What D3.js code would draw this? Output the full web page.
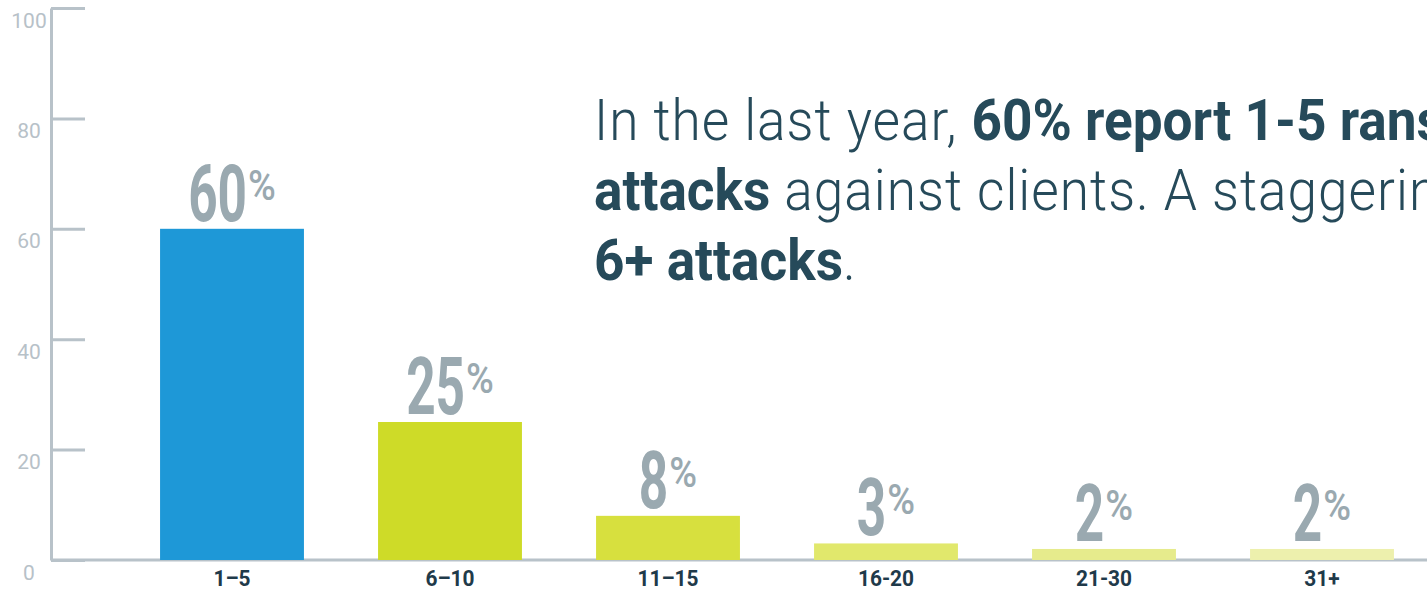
<!DOCTYPE html>
<html>
<head>
<title>attacks</title>
<script type="text/javascript" src="https://cdn.jsdelivr.net/npm/d3@7"></script>
<style>
body { margin: 0; background: #fff; }
svg { display: block; }
</style>
</head>
<body>
<svg width="1427" height="591"></svg>
<script type="text/javascript">

// data
var categories = ["1\u20135", "6\u201310", "11\u201315", "16-20", "21-30", "31+"];
var values = [60, 25, 8, 3, 2, 2];
var barColors = ["#1e98d7", "#cedb28", "#d7e03e", "#e1e86c", "#e6eb8c", "#edf0ad"];
var yTicks = [0, 20, 40, 60, 80, 100];

var svg = d3.select("svg");

var y = d3.scaleLinear().domain([0, 100]).range([560, 8]);
var x = d3.scaleBand().domain(categories).range([123, 1431])
  .paddingInner(0.34).paddingOuter(0.17);

var axisColor = "#b8c2c9";

// y axis
var yAxis = svg.append("g")
  .attr("transform", "translate(51,0)")
  .call(d3.axisLeft(y).tickValues(yTicks).tickSize(-34).tickSizeOuter(0));
yAxis.select(".domain").attr("stroke", axisColor).attr("stroke-width", 3);
yAxis.selectAll(".tick line").attr("stroke", axisColor).attr("stroke-width", 3);
yAxis.selectAll(".tick text")
  .attr("fill", "#b7c1c8")
  .attr("font-family", "Roboto")
  .attr("font-weight", 400)
  .attr("font-size", 21)
  .attr("text-anchor", "middle")
  .attr("x", -22)
  .attr("dy", 0)
  .attr("y", 19);

// baseline
svg.append("line")
  .attr("x1", 51).attr("x2", 1427)
  .attr("y1", y(0)).attr("y2", y(0))
  .attr("stroke", axisColor).attr("stroke-width", 3);

// bars
svg.selectAll("rect.bar")
  .data(values)
  .enter()
  .append("rect")
  .attr("class", "bar")
  .attr("x", function(d, i) { return x(categories[i]); })
  .attr("y", function(d) { return y(d); })
  .attr("width", x.bandwidth())
  .attr("height", function(d) { return y(0) - y(d); })
  .attr("fill", function(d, i) { return barColors[i]; });

// value labels: big condensed number + raised percent sign
var digScale = 0.65, pctScale = 0.9, gap = 1;
var lab = svg.selectAll("g.val")
  .data(values)
  .enter()
  .append("g")
  .attr("class", "val");

lab.append("text")
  .attr("class", "num")
  .attr("transform", "scale(" + digScale + ",1)")
  .attr("text-anchor", "end")
  .attr("fill", "#9aa9b0")
  .attr("font-family", "Roboto")
  .attr("font-weight", 700)
  .attr("font-size", 79)
  .text(function(d) { return d; });

lab.append("text")
  .attr("class", "pct")
  .attr("transform", "translate(" + gap + ",-21) scale(" + pctScale + ",1)")
  .attr("fill", "#9aa9b0")
  .attr("font-family", "Roboto")
  .attr("font-weight", 500)
  .attr("font-size", 42)
  .text("%");

lab.attr("transform", function(d, i) {
  var g = d3.select(this);
  var wn = g.select(".num").node().getComputedTextLength() * digScale;
  var wp = g.select(".pct").node().getComputedTextLength() * pctScale + gap;
  var cx = x(categories[i]) + x.bandwidth() / 2 - (wp - wn) / 2;
  return "translate(" + cx + "," + (y(d) - 8) + ")";
});

// category labels
var xAxis = svg.append("g")
  .attr("transform", "translate(0," + y(0) + ")")
  .call(d3.axisBottom(x).tickSize(0).tickPadding(0));
xAxis.select(".domain").remove();
xAxis.selectAll(".tick text")
  .attr("fill", "#1f3a4a")
  .attr("font-family", "Roboto")
  .attr("font-weight", 700)
  .attr("font-size", 22)
  .attr("dy", 0)
  .attr("y", 26)
  .attr("transform", "scale(0.95,1)");

// headline (runs off the right edge as in the original)
var lines = [
  [["In the last year, ", 300], ["60% report 1-5 ransomware", 700]],
  [["attacks", 700], [" against clients. A staggering ", 300], ["40% report", 700]],
  [["6+ attacks", 700], [".", 300]]
];
var head = svg.append("g").attr("transform", "translate(594,0)");
var ht = head.selectAll("text")
  .data(lines)
  .enter()
  .append("text")
  .attr("x", 0)
  .attr("y", function(d, i) { return 140 + i * 70; })
  .attr("fill", "#264a5a")
  .attr("font-family", "Roboto")
  .attr("font-size", 58);
ht.selectAll("tspan")
  .data(function(d) { return d; })
  .enter()
  .append("tspan")
  .attr("font-weight", function(d) { return d[1]; })
  .attr("letter-spacing", function(d) { return d[1] == 300 ? 1.1 : 0; })
  .text(function(d) { return d[0]; });

// squeeze headline so "6+ attacks" ends near x=843
var w = ht.filter(function(d, i) { return i == 2; }).select("tspan").node().getComputedTextLength();
head.attr("transform", "translate(594,0) scale(" + (249 / w) + ",1)");

</script>
</body>
</html>
